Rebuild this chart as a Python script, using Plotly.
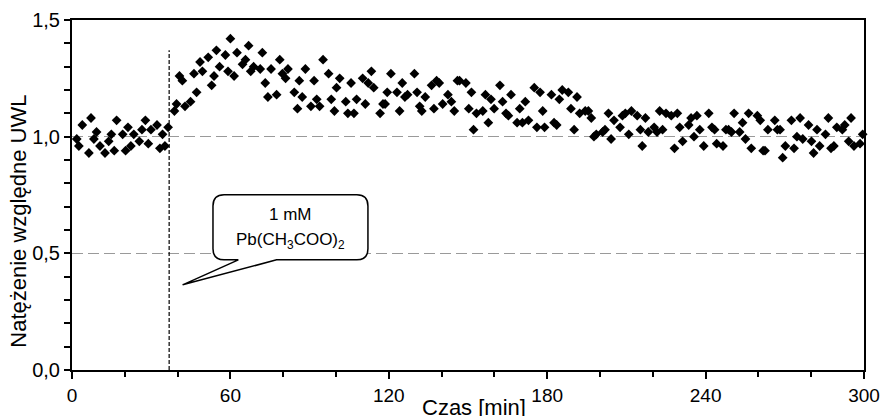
import plotly.graph_objects as go

# ---- data ----
time_min = [
    1.8, 2.6, 3.9, 6.4, 7.2, 8.3, 9.3, 10.6, 12.5, 13.9, 14.9, 16.0, 16.9, 19.2, 20.3, 21.2,
    22.3, 23.4, 25.5, 26.5, 27.8, 28.9, 29.9, 32.2, 33.3, 34.3, 35.2, 36.4, 38.8, 39.6, 40.7,
    41.8, 42.8, 44.9, 46.2, 47.2, 48.5, 49.4, 51.6, 52.9, 53.8, 54.7, 55.9, 58.1, 59.1, 60.0,
    61.4, 62.5, 64.6, 65.7, 66.9, 67.7, 68.8, 71.3, 72.1, 73.2, 74.2, 75.4, 77.5, 78.7, 79.7,
    80.9, 81.8, 84.2, 85.4, 86.1, 87.2, 88.4, 90.5, 91.7, 92.7, 93.8, 95.1, 97.2, 98.2, 99.4,
    100.2, 101.4, 103.7, 104.5, 105.7, 106.8, 107.8, 110.1, 111.1, 112.2, 113.4, 114.3, 116.7,
    117.8, 118.6, 119.4,
    120.8, 123.1, 124.1, 125.1, 126.1, 127.1, 129.7, 130.7, 131.7, 132.5, 133.8, 136.2, 137.1,
    138.1, 139.1, 140.4, 142.4, 143.7, 144.8, 146.0, 146.8, 149.2, 150.3, 151.3, 152.1, 153.2,
    155.6, 156.6, 157.7, 158.7, 159.9, 162.1, 163.1, 164.4, 165.3, 166.3, 168.6, 169.6, 170.6,
    171.7, 172.9, 175.1, 176.1, 177.3, 178.3, 179.0,
    181.6, 182.6, 183.6, 184.6, 185.7, 188.0, 189.0, 190.2, 191.3, 192.3, 194.4, 195.6, 196.7,
    197.7, 198.6, 201.0, 201.9, 203.2, 204.2, 205.3, 207.6, 208.5, 209.6, 210.9, 211.9, 214.1,
    215.3, 216.0, 217.2, 218.3, 220.5, 221.6, 222.6, 223.7, 225.0, 227.0, 228.2, 229.3, 230.2,
    231.3, 233.6, 234.5, 235.6, 236.7, 237.8, 239.3,
    241.2, 242.4, 243.4, 244.2, 246.6, 247.7, 248.7, 249.8, 250.8, 252.9, 254.0, 255.1, 256.3,
    257.3, 259.6, 260.7, 261.8, 262.5, 263.6, 266.2, 267.2, 268.2, 269.2, 270.2, 272.5, 273.5,
    274.6, 275.8, 276.8, 279.0, 280.1, 280.9, 282.2, 283.2, 285.4, 286.5, 287.5, 288.6, 289.7,
    291.8, 292.7, 294.2, 295.1, 296.2, 298.5, 299.5,
]
intensity = [
    0.99, 0.96, 1.05, 0.93, 1.08, 0.99, 1.02, 0.96, 0.93, 0.98, 1.01, 0.94, 1.07, 1.01, 0.94, 1.04,
    0.96, 1.01, 0.98, 1.03, 1.07, 0.97, 1.03, 1.05, 0.95, 1.01, 0.96, 1.04, 1.11, 1.14, 1.26,
    1.24, 1.13, 1.15, 1.27, 1.19, 1.32, 1.28, 1.34, 1.22, 1.26, 1.37, 1.30, 1.35, 1.28, 1.42,
    1.26, 1.36, 1.31, 1.33, 1.39, 1.28, 1.30, 1.29, 1.36, 1.23, 1.17, 1.29, 1.18, 1.33, 1.27,
    1.25, 1.29, 1.19, 1.12, 1.24, 1.17, 1.29, 1.13, 1.24, 1.16, 1.13, 1.33, 1.27, 1.16, 1.11,
    1.21, 1.25, 1.15, 1.10, 1.23, 1.10, 1.16, 1.25, 1.14, 1.23, 1.28, 1.21, 1.10,
    1.14, 1.14, 1.19,
    1.27, 1.19, 1.11, 1.23, 1.17, 1.18, 1.27, 1.19, 1.13, 1.11, 1.17, 1.22, 1.12,
    1.24, 1.23, 1.14, 1.18, 1.15, 1.11, 1.24, 1.24, 1.23, 1.12, 1.19, 1.03, 1.10,
    1.11, 1.18, 1.06, 1.16, 1.12, 1.22, 1.15, 1.10, 1.09, 1.18, 1.06, 1.12, 1.06,
    1.15, 1.07, 1.21, 1.04, 1.19, 1.11, 1.04,
    1.18, 1.06, 1.05, 1.16, 1.20, 1.19, 1.12, 1.03, 1.17, 1.10, 1.11, 1.11, 1.08,
    1.00, 1.01, 1.02, 1.03, 1.10, 0.99, 1.07, 1.04, 1.09, 1.10, 1.01, 1.11, 1.09,
    1.03, 0.96, 1.08, 1.02, 1.04, 1.02, 1.11, 1.03, 1.10, 1.09, 0.95, 1.10, 1.04,
    0.98, 1.05, 1.08, 1.00, 1.09, 1.03, 0.96,
    1.10, 1.04, 1.03, 0.97, 0.96, 1.03, 1.03, 1.02, 1.10, 1.02, 1.06, 0.99, 1.10,
    0.95, 1.09, 1.07, 0.94, 0.94, 1.03, 1.07, 1.03, 1.03, 0.91, 0.96, 1.07, 0.95,
    1.00, 1.08, 0.99, 1.05, 0.98, 0.93, 1.03, 0.96, 1.01, 1.08, 0.95, 0.96, 1.04,
    1.03, 1.05, 0.98, 1.08, 0.96, 0.97, 1.01,
]

y_tick_values = [0.0, 0.5, 1.0, 1.5]
y_tick_labels = ["0,0", "0,5", "1,0", "1,5"]
x_tick_values = [0, 60, 120, 180, 240, 300]
x_tick_labels = ["0", "60", "120", "180", "240", "300"]

event_time = 36.8          # addition of Pb acetate
event_line_top = 1.37
x_title = "Czas [min]"
y_title = "Natężenie względne UWL"
callout_line1 = "1 mM"
callout_line2 = "Pb(CH<sub>3</sub>COO)<sub>2</sub>"

FONT = "Liberation Sans, Arial, sans-serif"

fig = go.Figure()
fig.add_trace(go.Scatter(
    x=time_min, y=intensity, mode="markers",
    marker=dict(symbol="diamond", size=7.5, color="black", line=dict(width=0)),
    cliponaxis=False, hoverinfo="x+y",
))

# vertical dotted marker line at the moment of addition
fig.add_shape(type="line", xref="x", yref="y",
              x0=event_time, x1=event_time, y0=0, y1=event_line_top,
              line=dict(color="black", width=1.2, dash="4px,2px"), layer="above")

# callout bubble (rounded box with a tail pointing at the marker line)
L, R, T, B = 53.4, 112.1, 0.751, 0.472
rx, ry = 4.2, 0.048
tail_tip = (41.9, 0.365)
tail_a, tail_b = 63.0, 77.5
path = (f"M {L+rx},{T} L {R-rx},{T} Q {R},{T} {R},{T-ry} L {R},{B+ry} "
        f"Q {R},{B} {R-rx},{B} L {tail_b},{B} L {tail_tip[0]},{tail_tip[1]} "
        f"L {tail_a},{B} L {L+rx},{B} Q {L},{B} {L},{B+ry} L {L},{T-ry} "
        f"Q {L},{T} {L+rx},{T} Z")
fig.add_shape(type="path", path=path, xref="x", yref="y",
              fillcolor="white", line=dict(color="black", width=1.5), layer="above")

fig.add_annotation(x=(L + R) / 2, y=0.668, xref="x", yref="y", text=callout_line1,
                   showarrow=False, font=dict(family=FONT, size=17, color="black"))
fig.add_annotation(x=(L + R) / 2, y=0.552, xref="x", yref="y", text=callout_line2,
                   showarrow=False, font=dict(family=FONT, size=17, color="black"))

# axis titles
fig.add_annotation(x=0.508, y=-0.106, xref="paper", yref="paper", text=x_title,
                   showarrow=False, xanchor="center", yanchor="middle",
                   font=dict(family=FONT, size=22, color="black"))
fig.add_annotation(x=-0.068, y=0.424, xref="paper", yref="paper", text=y_title,
                   showarrow=False, textangle=-90, xanchor="center", yanchor="middle",
                   font=dict(family=FONT, size=22, color="black"))

axis_common = dict(showline=True, linecolor="black", linewidth=2, mirror=True,
                   zeroline=False, ticks="outside", tickcolor="black", tickwidth=1.5,
                   ticklabeloverflow="allow", automargin=False)

fig.update_xaxes(range=[0, 300], tickvals=x_tick_values, ticktext=x_tick_labels,
                 ticklen=7, showgrid=False,
                 tickfont=dict(family=FONT, size=19, color="black"),
                 minor=dict(tickvals=list(range(0, 301, 20)), ticks="outside", ticklen=5,
                            tickwidth=1.5, tickcolor="black", showgrid=False),
                 **axis_common)
fig.update_yaxes(range=[0, 1.5], tickvals=y_tick_values, ticktext=y_tick_labels,
                 ticklen=6, showgrid=True, gridcolor="#9a9a9a", gridwidth=1.4,
                 griddash="11px,5px",
                 tickfont=dict(family=FONT, size=20, color="black"),
                 minor=dict(dtick=0.1, ticks="outside", ticklen=6, tickwidth=1.5,
                            tickcolor="black", showgrid=False),
                 **axis_common)

fig.update_layout(width=880, height=416, margin=dict(l=72, r=16, t=20, b=46, pad=0),
                  plot_bgcolor="white", paper_bgcolor="white", showlegend=False,
                  font=dict(family=FONT, color="black"))

fig.write_html("out.html", config={"displayModeBar": False},
               post_script="document.body.style.margin='0';document.body.style.overflow='hidden';")
